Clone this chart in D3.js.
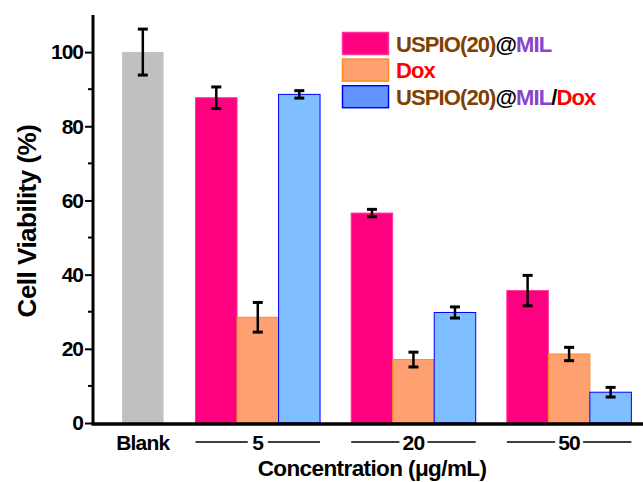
<!DOCTYPE html>
<html>
<head>
<meta charset="utf-8">
<script src="https://cdn.jsdelivr.net/npm/d3@7"></script>
<style>
  body { margin: 0; background: #fff; }
  svg { display: block; font-family: "Liberation Sans", Arial, sans-serif; font-weight: bold; }
</style>
</head>
<body>
<svg id="chart" width="643" height="482"></svg>
<script>
// data
var categories = ["Blank", "5", "20", "50"];
var seriesNames = ["USPIO(20)@MIL", "Dox", "USPIO(20)@MIL/Dox"];
var blankValue = 100, blankErr = 6.2;
var uspioMil = [87.7, 56.6, 35.7];
var uspioMilErr = [2.9, 1.0, 4.1];
var dox = [28.5, 17.1, 18.6];
var doxErr = [4.0, 2.0, 1.8];
var uspioMilDox = [88.6, 29.8, 8.3];
var uspioMilDoxErr = [1.0, 1.5, 1.3];
var yTicks = [0, 20, 40, 60, 80, 100];
var yMinorTicks = [10, 30, 50, 70, 90];

var fills = ["#FF0080", "#FFA070", "#80BFFF"];
var strokes = ["#FF3399", "#FF8C1A", "#0000FF"];
var legendFills = ["#FF0080", "#FFA070", "#6495FF"];

var svg = d3.select("#chart");

var y = d3.scaleLinear().domain([0, 110]).range([423, 15]);
// x in "bar widths": blank bar at 0, groups after that
var x = d3.scaleLinear().domain([-1.2, 12.05]).range([93, 643]);
var unit = x(1) - x(0);
var groupCenter = function(i){ return 2.77 + i * 3.75; };

var series = [
  {vals: uspioMil, errs: uspioMilErr},
  {vals: dox, errs: doxErr},
  {vals: uspioMilDox, errs: uspioMilDoxErr}
];

// flatten bars
var bars = [{cx: 0, v: blankValue, e: blankErr, fill: "#C0C0C0", stroke: "none"}];
series.forEach(function(s, si){
  s.vals.forEach(function(v, gi){
    bars.push({cx: groupCenter(gi) + (si - 1), v: v, e: s.errs[gi], fill: fills[si], stroke: strokes[si]});
  });
});

svg.selectAll("rect.bar").data(bars).enter().append("rect")
  .attr("class", "bar")
  .attr("x", function(d){ return x(d.cx - 0.5); })
  .attr("width", unit)
  .attr("y", function(d){ return y(d.v); })
  .attr("height", function(d){ return y(0) - y(d.v); })
  .attr("fill", function(d){ return d.fill; })
  .attr("stroke", function(d){ return d.stroke; })
  .attr("stroke-width", 1);

// error bars
var eb = svg.selectAll("g.err").data(bars).enter().append("g").attr("class", "err")
  .attr("stroke", "#000");
eb.append("line")
  .attr("x1", function(d){ return x(d.cx); }).attr("x2", function(d){ return x(d.cx); })
  .attr("y1", function(d){ return y(d.v + d.e); }).attr("y2", function(d){ return y(d.v - d.e); })
  .attr("stroke-width", 2.5);
eb.append("line")
  .attr("x1", function(d){ return x(d.cx) - 5; }).attr("x2", function(d){ return x(d.cx) + 5; })
  .attr("y1", function(d){ return y(d.v + d.e); }).attr("y2", function(d){ return y(d.v + d.e); })
  .attr("stroke-width", 3);
eb.append("line")
  .attr("x1", function(d){ return x(d.cx) - 5; }).attr("x2", function(d){ return x(d.cx) + 5; })
  .attr("y1", function(d){ return y(d.v - d.e); }).attr("y2", function(d){ return y(d.v - d.e); })
  .attr("stroke-width", 3);

// y axis
var yAxis = svg.append("g").attr("transform", "translate(93,0)")
  .call(d3.axisLeft(y).tickValues(yTicks).tickSize(8).tickPadding(2));
yAxis.select(".domain").remove();
yAxis.selectAll(".tick line").attr("stroke-width", 2);
yAxis.selectAll(".tick text").attr("font-size", 21).attr("font-weight", "bold")
  .attr("font-family", "Liberation Sans, Arial, sans-serif").attr("letter-spacing", -1).attr("fill", "#000");
svg.append("g").selectAll("line").data(yMinorTicks).enter().append("line")
  .attr("x1", 88).attr("x2", 93)
  .attr("y1", function(d){ return y(d); }).attr("y2", function(d){ return y(d); })
  .attr("stroke", "#000").attr("stroke-width", 2);
svg.append("line").attr("x1", 93).attr("x2", 93).attr("y1", y(110)).attr("y2", y(0) + 1.5)
  .attr("stroke", "#000").attr("stroke-width", 3);
svg.append("line").attr("x1", 91.5).attr("x2", 643).attr("y1", y(0) + 1).attr("y2", y(0) + 1)
  .attr("stroke", "#000").attr("stroke-width", 3.5);

// category labels
var catX = [0].concat([0, 1, 2].map(groupCenter));
svg.selectAll("text.cat").data(categories).enter().append("text")
  .attr("class", "cat")
  .attr("x", function(d, i){ return x(catX[i]); })
  .attr("y", 450)
  .attr("text-anchor", "middle")
  .attr("font-size", 21)
  .attr("letter-spacing", -0.8)
  .text(function(d){ return d; });
// lines spanning each concentration group
[0, 1, 2].forEach(function(gi){
  var c = x(groupCenter(gi)), half = 1.5 * unit;
  var gap = categories[gi + 1].length > 1 ? 14 : 10;
  svg.append("line").attr("x1", c - half).attr("x2", c - gap).attr("y1", 442).attr("y2", 442)
    .attr("stroke", "#000").attr("stroke-width", 1.5);
  svg.append("line").attr("x1", c + gap).attr("x2", c + half).attr("y1", 442).attr("y2", 442)
    .attr("stroke", "#000").attr("stroke-width", 1.5);
});

// axis titles
svg.append("text").attr("x", 372).attr("y", 476).attr("text-anchor", "middle")
  .attr("font-size", 22.5).attr("letter-spacing", -0.6).text("Concentration (\u03bcg/mL)");
svg.append("text").attr("transform", "translate(36,221) rotate(-90)").attr("text-anchor", "middle")
  .attr("font-size", 26).attr("letter-spacing", -0.5).text("Cell Viability (%)");

// legend
var legendParts = [
  [["USPIO(20)", "#804000"], ["@", "#000"], ["MIL", "#8844CC"]],
  [["Dox", "#FF0000"]],
  [["USPIO(20)", "#804000"], ["@", "#000"], ["MIL", "#8844CC"], ["/", "#000"], ["Dox", "#FF0000"]]
];
var lg = svg.append("g").attr("transform", "translate(342,32)");
seriesNames.forEach(function(name, i){
  var row = lg.append("g").attr("transform", "translate(0," + (i * 26.6) + ")");
  row.append("rect").attr("x", 0.5).attr("y", 0.5).attr("width", 46).attr("height", 22)
    .attr("fill", legendFills[i]).attr("stroke", strokes[i]).attr("stroke-width", 1.5);
  var t = row.append("text").attr("x", 54).attr("y", 19.5).attr("font-size", 22).attr("letter-spacing", -0.9);
  legendParts[i].forEach(function(p){
    t.append("tspan").attr("fill", p[1]).text(p[0]);
  });
});
</script>
</body>
</html>
